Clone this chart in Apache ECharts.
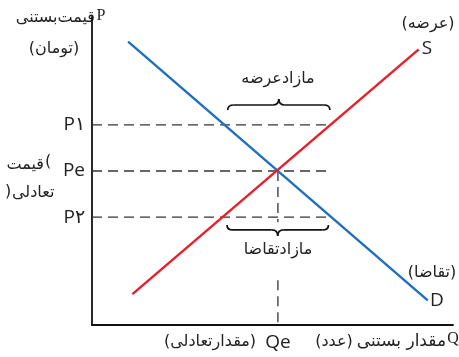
<!DOCTYPE html>
<html>
<head>
<meta charset="utf-8">
<script src="https://cdn.jsdelivr.net/npm/echarts@6/dist/echarts.min.js"></script>
<style>
  html, body { margin: 0; padding: 0; background: #fff; }
  #chart { width: 459px; height: 357px; }
</style>
</head>
<body>
<div id="chart"></div>
<script>
// supply / demand schematic (arbitrary units, 0..100 on both axes)
var demandLine = [[10, 92], [93, 8]];
var supplyLine = [[11.2, 10], [90.5, 89.5]];
var eqQ = 51.5;
var eqP = 50;
var p1 = 65;
var p2 = 35;
var guideEnd = 66;
var yTickValues = [p2, eqP, p1];
var yTickLabels = ['P۲', 'Pe', 'P۱'];
var xTickValues = [eqQ];
var xTickLabels = ['Qe'];
// braces: [qStart, qEnd, pAtEnds, direction (-1 up, 1 down)]
var braces = [[37.6, 65.9, 69.8, -1], [37.4, 65.5, 32.5, 1]];

var blue = '#1f6fbf';
var red = '#e91e2a';
var ink = '#222';
var fa = '"DejaVu Sans", "Noto Sans", sans-serif';
var lat = '"Open Sans", "Noto Sans", sans-serif';
var serif = '"Liberation Serif", "DejaVu Serif", serif';

var myChart = echarts.init(document.getElementById('chart'));

function guide(points) {
    return {
        type: 'line',
        data: points,
        symbol: 'none',
        silent: true,
        z: 1,
        lineStyle: { color: '#333', width: 1.3, type: [10, 6] }
    };
}

function renderBrace(params, api) {
    var a = api.coord([api.value(0), api.value(2)]);
    var b = api.coord([api.value(1), api.value(2)]);
    var d = api.value(3);
    var x1 = a[0], x2 = b[0], y0 = a[1];
    var xm = (x1 + x2) / 2;
    var ym = y0 + d * 5;
    var yt = y0 + d * 11;
    var st = { stroke: '#111', lineWidth: 1.7, fill: null };
    return {
        type: 'group',
        children: [
            { type: 'bezierCurve', shape: { x1: x1, y1: y0, cpx1: x1, cpy1: ym, x2: x1 + 6, y2: ym }, style: st },
            { type: 'line', shape: { x1: x1 + 6, y1: ym, x2: xm - 6, y2: ym }, style: st },
            { type: 'bezierCurve', shape: { x1: xm - 6, y1: ym, cpx1: xm, cpy1: ym, x2: xm, y2: yt }, style: st },
            { type: 'bezierCurve', shape: { x1: xm, y1: yt, cpx1: xm, cpy1: ym, x2: xm + 6, y2: ym }, style: st },
            { type: 'line', shape: { x1: xm + 6, y1: ym, x2: x2 - 6, y2: ym }, style: st },
            { type: 'bezierCurve', shape: { x1: x2 - 6, y1: ym, cpx1: x2, cpy1: ym, x2: x2, y2: y0 }, style: st }
        ]
    };
}

function txt(x, y, s, size, font, align) {
    return {
        type: 'text',
        x: x,
        y: y,
        style: {
            text: s,
            fill: ink,
            font: size + 'px ' + font,
            align: align || 'center',
            verticalAlign: 'middle'
        }
    };
}

myChart.setOption({
    animation: false,
    grid: { left: 92, right: 6, top: 17, bottom: 32 },
    xAxis: {
        type: 'value',
        min: 0,
        max: 100,
        splitLine: { show: false },
        axisTick: { show: false },
        axisLine: { lineStyle: { color: '#111', width: 1.8 } },
        axisLabel: {
            customValues: xTickValues,
            margin: 8,
            color: ink,
            fontSize: 19,
            fontFamily: lat,
            formatter: function (v) { return xTickLabels[xTickValues.indexOf(v)]; }
        }
    },
    yAxis: {
        type: 'value',
        min: 0,
        max: 100,
        splitLine: { show: false },
        axisTick: { show: false },
        axisLine: { lineStyle: { color: '#111', width: 1.8 } },
        axisLabel: {
            customValues: yTickValues,
            margin: 7,
            color: ink,
            fontSize: 19,
            fontFamily: lat,
            formatter: function (v) { return yTickLabels[yTickValues.indexOf(v)]; }
        }
    },
    series: [
        guide([[0, p1], [guideEnd, p1]]),
        guide([[0, eqP], [guideEnd, eqP]]),
        guide([[0, p2], [guideEnd, p2]]),
        guide([[eqQ, eqP], [eqQ, p2 - 1.6]]),
        guide([[eqQ, 14.5], [eqQ, 0]]),
        {
            type: 'line',
            data: demandLine,
            symbol: 'none',
            z: 3,
            lineStyle: { color: blue, width: 2.4 }
        },
        {
            type: 'line',
            data: supplyLine,
            symbol: 'none',
            z: 4,
            lineStyle: { color: red, width: 2.4 }
        },
        {
            type: 'custom',
            data: braces,
            renderItem: renderBrace,
            z: 5
        }
    ],
    graphic: [
        txt(101, 16, 'P', 16, serif),
        txt(95, 18, 'قیمت\u200cبستنی', 16, fa, 'right'),
        txt(54, 49, '(تومان)', 16, fa),
        // two-line "(قیمت تعادلی)" with parens drawn on their own
        txt(44, 165, 'قیمت', 16, fa, 'right'),
        txt(48, 162, '(', 16, fa),
        txt(12, 193, 'تعادلی', 16, fa, 'left'),
        txt(8, 192, ')', 16, fa),
        txt(428, 24, '(عرضه)', 16, fa),
        txt(427, 49, 'S', 19, lat),
        txt(432, 273, '(تقاضا)', 16, fa),
        txt(437, 301, 'D', 19, lat),
        txt(278, 79, 'مازادعرضه', 16, fa),
        txt(278, 250, 'مازادتقاضا', 16, fa),
        txt(210, 342, '(مقدارتعادلی)', 16, fa),
        txt(334, 342, '(عدد)', 16, fa),
        txt(446, 342, 'مقدار بستنی', 17, fa, 'right'),
        txt(453, 339, 'Q', 16, serif)
    ]
});
</script>
</body>
</html>
